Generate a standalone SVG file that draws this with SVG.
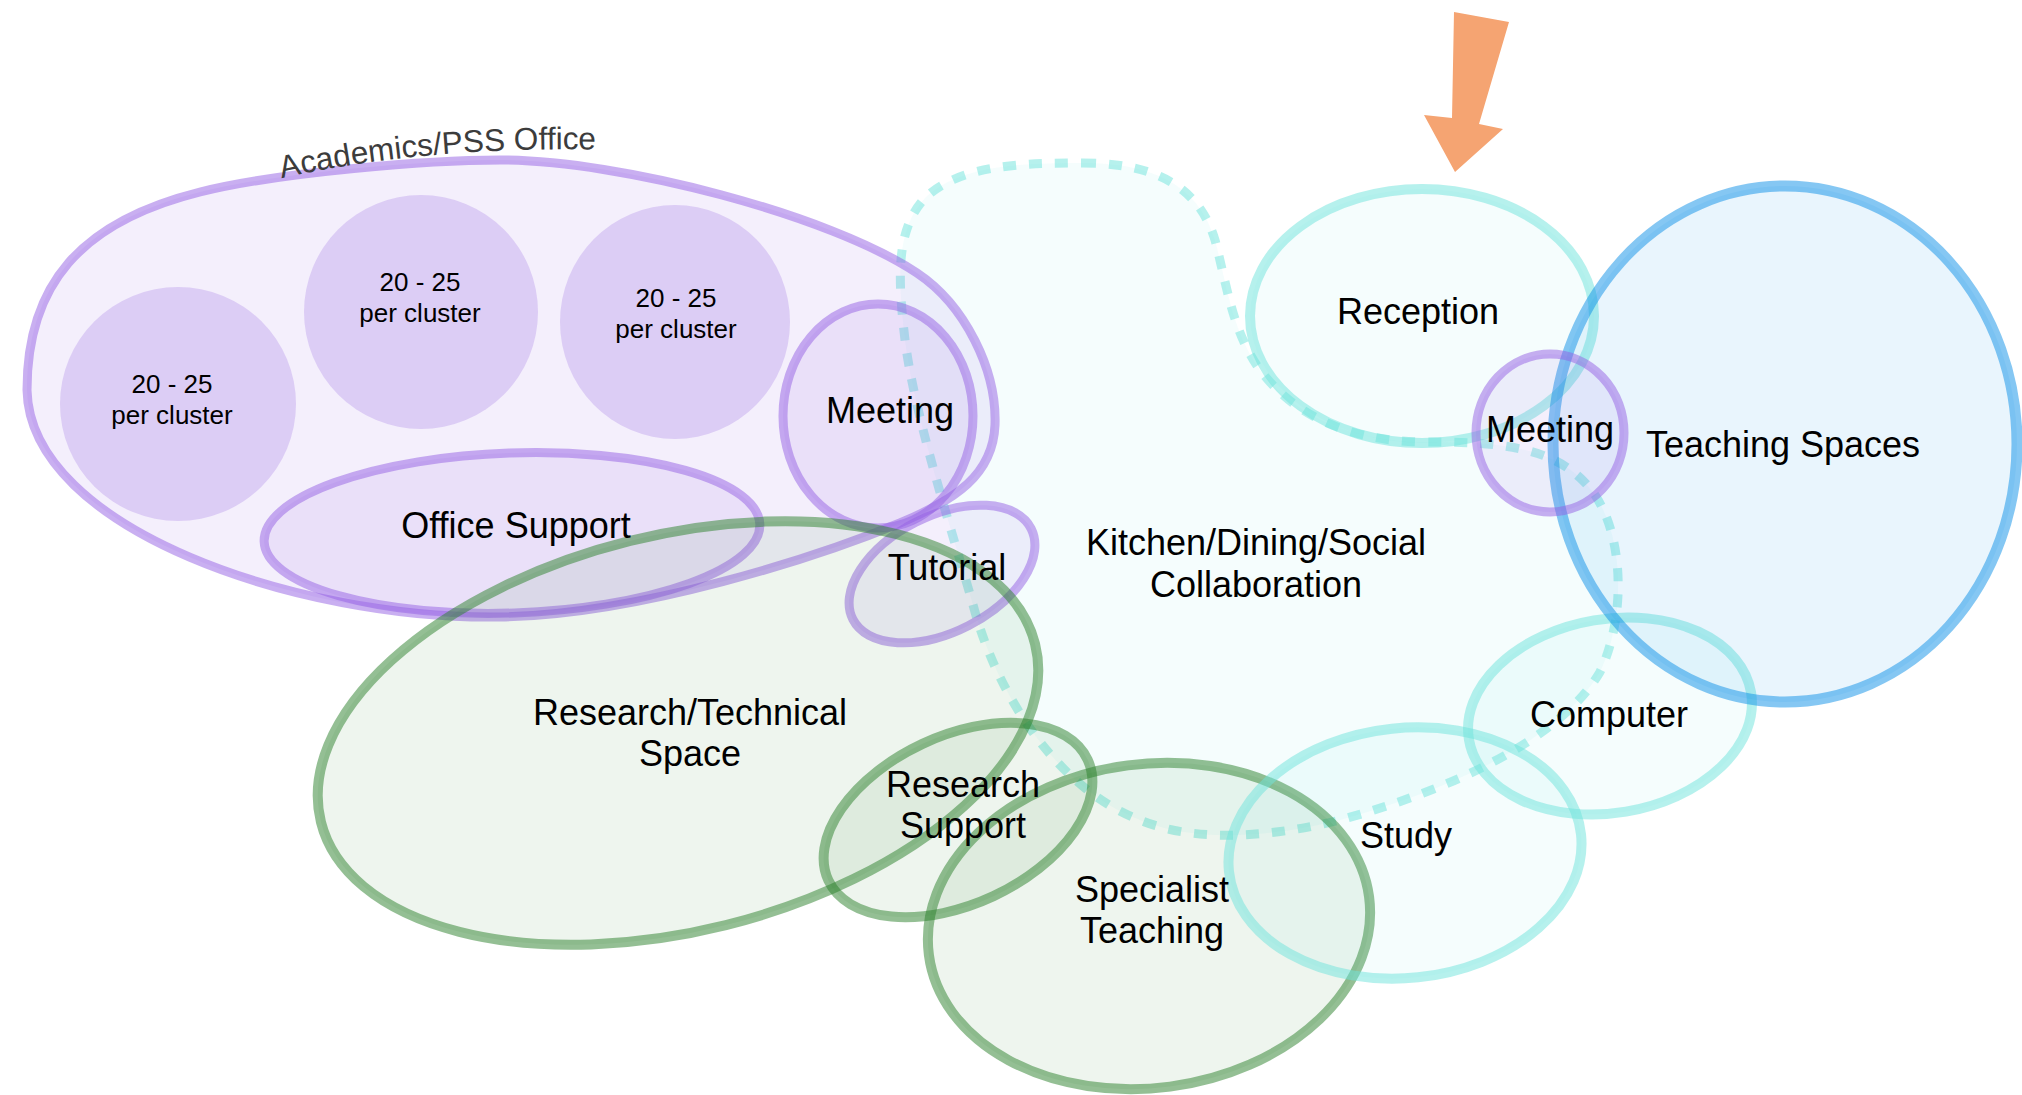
<svg xmlns="http://www.w3.org/2000/svg" width="2022" height="1095" viewBox="0 0 2022 1095">
  <style>
    .pu { fill: #9360e3; fill-opacity: 0.1; stroke: #9360e3; stroke-opacity: 0.5; stroke-width: 9; }
    .cl { fill: #9360e3; fill-opacity: 0.24; stroke: none; }
    .gr { fill: #2a7f2a; fill-opacity: 0.08; stroke: #2a7f2a; stroke-opacity: 0.5; stroke-width: 10; }
    .cy { fill: #6de3dc; fill-opacity: 0.07; stroke: #6de3dc; stroke-opacity: 0.5; stroke-width: 10; }
    .bl { fill: #0c8fe8; fill-opacity: 0.09; stroke: #0c8fe8; stroke-opacity: 0.5; stroke-width: 11; }
    .dash { fill: #6de3dc; fill-opacity: 0.07; stroke: #6de3dc; stroke-opacity: 0.5; stroke-width: 9; stroke-dasharray: 13 13; }
    text { font-family: "Liberation Sans", Arial, Helvetica, sans-serif; fill: #000; text-anchor: middle; }
    .lb { font-size: 36px; }
    .sm { font-size: 26px; }
    .ti { font-size: 31.5px; fill: #3c3c3c; text-anchor: start; }
  </style>
  <defs>
    <path id="titleArc" d="M 270 181 Q 440 140 670 152"/>
  </defs>

  <!-- shared kitchen / dining / social area (dashed outline) -->
  <g id="kitchen">
    <path class="dash" d="M 1083 163 C 1160 163 1200 190 1215 240 C 1228 290 1232 330 1260 370 C 1290 410 1340 440 1420 442 C 1500 442 1560 445 1595 495 C 1625 540 1625 620 1600 672 C 1560 740 1450 790 1340 820 C 1280 835 1200 845 1140 820 C 1060 790 1000 700 975 612 C 955 540 915 420 905 340 C 898 280 895 230 925 198 C 960 165 1020 163 1083 163 Z"/>
  </g>

  <!-- academics / PSS office cluster -->
  <g id="academics">
    <path class="pu" stroke-width="8" fill-opacity="0.09" d="M 27 390 C 27 285 80 222 200 192 C 280 172 430 160 500 160 C 620 160 830 215 917 273 C 965 305 997 370 995 425 C 993 475 955 500 900 523 C 820 556 640 615 500 617 C 300 620 30 530 27 390 Z"/>
    <text class="ti"><textPath href="#titleArc" startOffset="12">Academics/PSS Office</textPath></text>
  </g>
  <g id="cluster1">
    <ellipse class="cl" cx="178" cy="404" rx="118" ry="117"/>
  </g>
  <g id="cluster2">
    <ellipse class="cl" cx="421" cy="312" rx="117" ry="117"/>
  </g>
  <g id="cluster3">
    <ellipse class="cl" cx="675" cy="322" rx="115" ry="117"/>
  </g>
  <g id="office-support">
    <ellipse class="pu" cx="512" cy="533" rx="248" ry="80" transform="rotate(-2 512 533)"/>
  </g>
  <g id="meeting-left">
    <ellipse class="pu" cx="878" cy="416" rx="95" ry="112"/>
  </g>
  <g id="tutorial">
    <ellipse class="pu" cx="942" cy="574" rx="100" ry="58" transform="rotate(-27 942 574)"/>
  </g>

  <!-- research spaces -->
  <g id="research-technical">
    <ellipse class="gr" cx="678" cy="733" rx="368" ry="198" transform="rotate(-14 678 733)"/>
  </g>
  <g id="research-support">
    <ellipse class="gr" cx="958" cy="820" rx="143" ry="84" transform="rotate(-25 958 820)"/>
  </g>
  <g id="specialist-teaching">
    <ellipse class="gr" cx="1149" cy="926" rx="222" ry="162" transform="rotate(-7.5 1149 926)"/>
  </g>

  <!-- learning spaces -->
  <g id="study">
    <ellipse class="cy" cx="1405" cy="853" rx="177" ry="125" transform="rotate(-6 1405 853)"/>
  </g>
  <g id="computer">
    <ellipse class="cy" cx="1610" cy="716" rx="143" ry="97" transform="rotate(-9.5 1610 716)"/>
  </g>
  <g id="reception">
    <ellipse class="cy" fill-opacity="0.04" cx="1422" cy="316" rx="172" ry="127"/>
  </g>
  <g id="teaching-spaces">
    <ellipse class="bl" cx="1785" cy="444" rx="232" ry="258"/>
  </g>
  <g id="meeting-right">
    <ellipse class="pu" cx="1550" cy="433" rx="74" ry="79"/>
  </g>

  <!-- entrance arrow -->
  <g id="entrance">
    <polygon fill="#f5a472" points="1454,12 1509,22 1479,124 1503,129 1455,172 1424,115 1452,118"/>
  </g>

  <!-- labels -->
  <g id="labels">
    <text class="sm" x="172" y="393">20 - 25</text>
    <text class="sm" x="172" y="424">per cluster</text>
    <text class="sm" x="420" y="291">20 - 25</text>
    <text class="sm" x="420" y="322">per cluster</text>
    <text class="sm" x="676" y="307">20 - 25</text>
    <text class="sm" x="676" y="338">per cluster</text>
    <text class="lb" x="516" y="538">Office Support</text>
    <text class="lb" x="890" y="423">Meeting</text>
    <text class="lb" x="947" y="580">Tutorial</text>
    <text class="lb" x="1256" y="555">Kitchen/Dining/Social</text>
    <text class="lb" x="1256" y="597">Collaboration</text>
    <text class="lb" x="1418" y="324">Reception</text>
    <text class="lb" x="1550" y="442">Meeting</text>
    <text class="lb" x="1783" y="457">Teaching Spaces</text>
    <text class="lb" x="1609" y="727">Computer</text>
    <text class="lb" x="1406" y="848">Study</text>
    <text class="lb" x="690" y="725">Research/Technical</text>
    <text class="lb" x="690" y="766">Space</text>
    <text class="lb" x="963" y="797">Research</text>
    <text class="lb" x="963" y="838">Support</text>
    <text class="lb" x="1152" y="902">Specialist</text>
    <text class="lb" x="1152" y="943">Teaching</text>
  </g>
</svg>
